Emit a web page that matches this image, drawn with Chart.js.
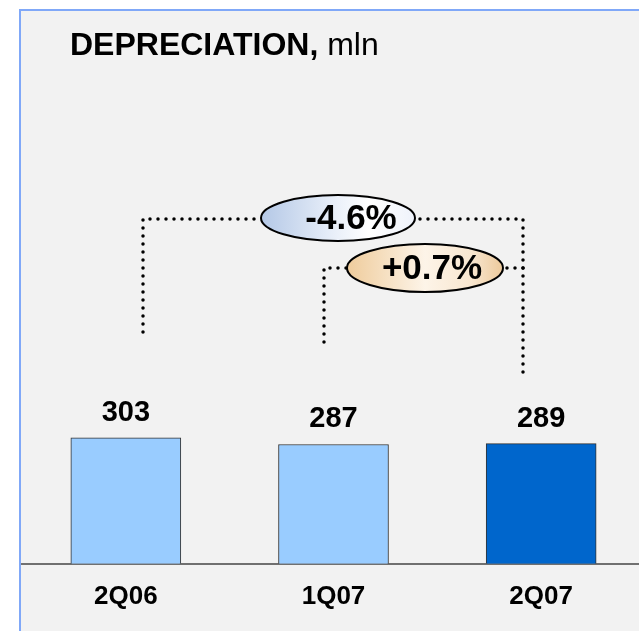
<!DOCTYPE html>
<html>
<head>
<meta charset="utf-8">
<title>Depreciation</title>
<script src="https://cdn.jsdelivr.net/npm/chart.js@4.4.1/dist/chart.umd.min.js"></script>
<style>
  html, body {
    margin: 0;
    padding: 0;
    background: #ffffff;
    overflow: hidden;
    width: 639px;
    height: 631px;
  }
  #panel {
    position: absolute;
    left: 19px;
    top: 9px;
    width: 640px;
    height: 640px;
    background: #f2f2f2;
    border-left: 2px solid #80a8f8;
    border-top: 2px solid #80a8f8;
  }
  #chart {
    position: absolute;
    left: 0;
    top: 0;
  }
</style>
</head>
<body>
<div id="panel"></div>
<canvas id="chart" width="660" height="631"></canvas>
<script>
// quarterly depreciation, mln
const quarters = ['2Q06', '1Q07', '2Q07'];
const depreciation = [303, 287, 289];
const barColors = ['#99ccff', '#99ccff', '#0066cc'];

const FONT = '"Liberation Sans", Arial, sans-serif';

// change of the last quarter vs. a previous one, in percent
function pctChange(from, to) {
  const v = (to / from - 1) * 100;
  return (v > 0 ? '+' : '') + v.toFixed(1) + '%';
}

// title in the top left corner: bold name + plain unit
const titlePlugin = {
  id: 'titleText',
  afterDraw(chart) {
    const ctx = chart.ctx;
    ctx.save();
    ctx.fillStyle = '#000';
    ctx.textBaseline = 'alphabetic';
    ctx.font = 'bold 32px ' + FONT;
    ctx.fillText('DEPRECIATION,', 70, 55);
    const w = ctx.measureText('DEPRECIATION, ').width;
    ctx.font = '32px ' + FONT;
    ctx.fillText('mln', 70 + w, 55);
    ctx.restore();
  }
};

// numbers above the bars
const valueLabels = {
  id: 'valueLabels',
  afterDatasetsDraw(chart) {
    const ctx = chart.ctx;
    const meta = chart.getDatasetMeta(0);
    ctx.save();
    ctx.font = 'bold 29px ' + FONT;
    ctx.fillStyle = '#000';
    ctx.textAlign = 'center';
    ctx.textBaseline = 'middle';
    meta.data.forEach((bar, i) => {
      ctx.fillText(String(depreciation[i]), bar.x, bar.y - 25);
    });
    ctx.restore();
  }
};

// dotted brackets with the growth ovals
function dottedPath(ctx, pts) {
  ctx.beginPath();
  ctx.moveTo(pts[0][0], pts[0][1]);
  for (let i = 1; i < pts.length; i++) ctx.lineTo(pts[i][0], pts[i][1]);
  ctx.stroke();
}

function oval(ctx, cx, cy, rx, ry, stops, text, textDx) {
  const g = ctx.createLinearGradient(cx - rx, cy, cx + rx, cy);
  stops.forEach(s => g.addColorStop(s[0], s[1]));
  ctx.beginPath();
  ctx.ellipse(cx, cy, rx, ry, 0, 0, Math.PI * 2);
  ctx.fillStyle = g;
  ctx.fill();
  ctx.setLineDash([]);
  ctx.lineWidth = 2;
  ctx.strokeStyle = '#000';
  ctx.stroke();
  ctx.fillStyle = '#000';
  ctx.font = 'bold 35px ' + FONT;
  ctx.textAlign = 'center';
  ctx.textBaseline = 'middle';
  ctx.fillText(text, cx + textDx, cy + 1);
}

const brackets = {
  id: 'brackets',
  afterDraw(chart) {
    const ctx = chart.ctx;
    ctx.save();
    ctx.strokeStyle = '#000';
    ctx.lineWidth = 3.5;
    ctx.lineCap = 'round';
    ctx.setLineDash([0, 8]);
    dottedPath(ctx, [[143, 332], [143, 219], [261, 219]]);
    dottedPath(ctx, [[523, 372], [523, 219], [415, 219]]);
    dottedPath(ctx, [[324, 342], [324, 268], [347, 268]]);
    dottedPath(ctx, [[523, 268], [503, 268]]);

    oval(ctx, 338, 218, 77, 23,
      [[0, '#b4c8e6'], [0.45, '#e6edf8'], [0.7, '#ffffff'], [1, '#eef2fa']],
      pctChange(depreciation[0], depreciation[2]), 13);
    oval(ctx, 425, 268, 78, 24,
      [[0, '#efcc9c'], [0.5, '#fdf4e8'], [0.8, '#f8e6cf'], [1, '#ecc99b']],
      pctChange(depreciation[1], depreciation[2]), 7);
    ctx.restore();
  }
};

new Chart(document.getElementById('chart'), {
  type: 'bar',
  data: {
    labels: quarters,
    datasets: [{
      data: depreciation,
      backgroundColor: barColors,
      borderColor: '#333333',
      borderWidth: 1,
      barThickness: 110
    }]
  },
  options: {
    responsive: false,
    devicePixelRatio: 1,
    animation: false,
    layout: {
      padding: { left: 22, right: 15, top: 148, bottom: 2 }
    },
    plugins: {
      legend: { display: false },
      tooltip: { enabled: false }
    },
    scales: {
      y: {
        display: false,
        min: 0,
        max: 1000
      },
      x: {
        grid: { display: false, drawTicks: false },
        border: { display: true, color: '#707070', width: 2 },
        ticks: {
          color: '#000',
          padding: 17,
          font: { family: FONT, size: 26, weight: 'bold' }
        }
      }
    }
  },
  plugins: [valueLabels, brackets, titlePlugin]
});
</script>
</body>
</html>
